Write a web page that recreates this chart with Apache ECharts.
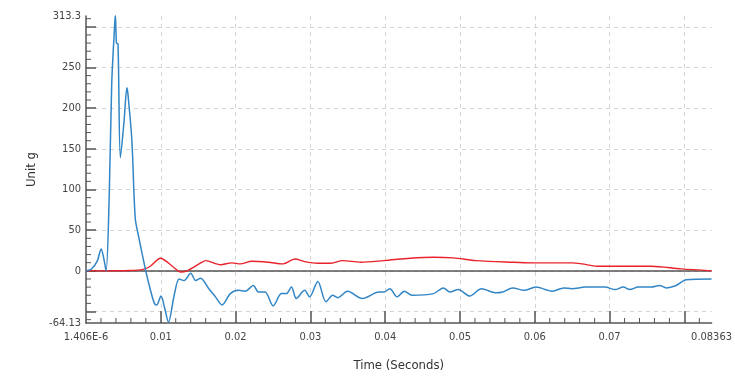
<!DOCTYPE html>
<html><head><meta charset="utf-8">
<script src="https://cdn.jsdelivr.net/npm/echarts@6/dist/echarts.min.js"></script>
<style>html,body{margin:0;padding:0;background:#fff}#c{width:735px;height:377px}</style>
</head><body><div id="c"></div><script>
// Blue trace (acceleration, g)
const accelTime = [0, 0.0007, 0.0015, 0.00203, 0.0024, 0.00269, 0.0031, 0.00344, 0.00385, 0.00393, 0.00401, 0.00408, 0.00428, 0.0046, 0.0051, 0.00547, 0.0056, 0.00613, 0.00658, 0.00702, 0.00799, 0.00857, 0.00914, 0.00944, 0.01003, 0.0105, 0.01103, 0.01179, 0.01245, 0.01311, 0.014, 0.01466, 0.01532, 0.01642, 0.01731, 0.01819, 0.0193, 0.0204, 0.02128, 0.02238, 0.02305, 0.02393, 0.02503, 0.02613, 0.02679, 0.02746, 0.02812, 0.02923, 0.02989, 0.03099, 0.03209, 0.03298, 0.03364, 0.03497, 0.03695, 0.03917, 0.03983, 0.04062, 0.04159, 0.04256, 0.04358, 0.04645, 0.04777, 0.04865, 0.04976, 0.0513, 0.05285, 0.05483, 0.05572, 0.05705, 0.05858, 0.06013, 0.06234, 0.06388, 0.06499, 0.06675, 0.0694, 0.07073, 0.07183, 0.07272, 0.07381, 0.07559, 0.07669, 0.07758, 0.0789, 0.08023, 0.08363];
const accelValues = [0, 2, 12, 27, 14, 0, 90, 230, 305, 314, 295, 280, 279, 139, 185, 225, 218, 161, 65, 43, 0, -22, -40, -42, -31, -45, -63, -30, -10, -12, -3, -12, -9, -22, -32, -42, -28, -24, -25, -18, -26, -26, -43, -28, -28, -20, -34, -24, -32, -13, -38, -30, -33, -25, -34, -26, -26, -22, -32, -25, -30, -28, -21, -26, -23, -31, -22, -27, -26, -21, -24, -20, -25, -21, -22, -20, -20, -23, -20, -23, -20, -20, -18, -21, -18, -11, -10];
// Red trace
const refTime = [0, 0.006, 0.0075, 0.0085, 0.00997, 0.0115, 0.01268, 0.0135, 0.0154, 0.01599, 0.01797, 0.01951, 0.02062, 0.02216, 0.02437, 0.02636, 0.02791, 0.02923, 0.03099, 0.03275, 0.0343, 0.03673, 0.03983, 0.04335, 0.04645, 0.0491, 0.05219, 0.05705, 0.0597, 0.065, 0.06632, 0.0683, 0.07559, 0.07956, 0.08363];
const refValues = [0, 0.5, 1.5, 5, 15.5, 6, -1.5, 0, 10, 12.6, 7.5, 9.8, 8.5, 11.8, 10.6, 8.5, 14.6, 11.4, 9.4, 9.4, 12.6, 10.6, 12.6, 15.5, 16.7, 15.9, 12.6, 10.5, 9.8, 9.8, 8.5, 5.7, 5.7, 2.4, 0];

const xLabelValues = [0.000001406, 0.01, 0.02, 0.03, 0.04, 0.05, 0.06, 0.07, 0.08363];
const xLabelTexts = ['1.406E-6', '0.01', '0.02', '0.03', '0.04', '0.05', '0.06', '0.07', '0.08363'];
const xMajorTicks = [0.01, 0.02, 0.03, 0.04, 0.05, 0.06, 0.07, 0.08];
const xMinorTicks = [0.002, 0.004, 0.006, 0.008, 0.012, 0.014, 0.016, 0.018, 0.022, 0.024, 0.026, 0.028, 0.032, 0.034, 0.036, 0.038, 0.042, 0.044, 0.046, 0.048, 0.052, 0.054, 0.056, 0.058, 0.062, 0.064, 0.066, 0.068, 0.072, 0.074, 0.076, 0.078, 0.082];
const yLabelValues = [-64.13, 0, 50, 100, 150, 200, 250, 313.3];
const yMajorTicks = [-50, 0, 50, 100, 150, 200, 250, 300];
const yMinorTicks = [-60, -40, -30, -20, -10, 10, 20, 30, 40, 60, 70, 80, 90, 110, 120, 130, 140, 160, 170, 180, 190, 210, 220, 230, 240, 260, 270, 280, 290, 310];

const xMin = 0.000001406, xMax = 0.08363, yMin = -64.13, yMax = 313.3;
const FONT = "'Liberation Sans Narrow', 'DejaVu Sans Condensed', sans-serif";
const zip = (a, b) => a.map((t, i) => [t, b[i]]);

function minorTickSeries(data, horizontal) {
  return {
    type: 'custom', silent: true, clip: false, z: 6,
    encode: {x: 0, y: 1},
    data: data,
    renderItem: function (params, api) {
      const p = api.coord([api.value(0), api.value(1)]);
      const shape = horizontal
        ? {x1: p[0], y1: p[1], x2: p[0] + 5, y2: p[1]}
        : {x1: p[0], y1: p[1], x2: p[0], y2: p[1] - 5};
      return {type: 'line', shape: shape, style: {stroke: '#555', lineWidth: 1}};
    }
  };
}

const chart = echarts.init(document.getElementById('c'), null, {renderer: 'canvas'});
chart.setOption({
  animation: false,
  backgroundColor: '#fff',
  grid: {left: 86, right: 19, top: 16, bottom: 53, containLabel: false},
  xAxis: {
    type: 'value', min: xMin, max: xMax, position: 'bottom',
    name: 'Time (Seconds)', nameLocation: 'middle', nameGap: 36,
    nameTextStyle: {fontFamily: FONT, fontSize: 13, color: '#333'},
    axisLine: {show: true, onZero: false, lineStyle: {color: '#555', width: 1.5}},
    axisTick: {show: true, inside: true, length: 12, customValues: xMajorTicks, lineStyle: {color: '#555', width: 1.5}},
    axisLabel: {customValues: xLabelValues, margin: 9, fontFamily: FONT, fontSize: 11, color: '#444',
      showMinLabel: true, showMaxLabel: true,
      formatter: v => { const i = xLabelValues.findIndex(x => Math.abs(x - v) < 1e-9); return i >= 0 ? xLabelTexts[i] : ''; }},
    splitLine: {show: true, lineStyle: {color: '#d4d4d4', type: [4, 4], width: 1}}
  },
  yAxis: {
    type: 'value', min: yMin, max: yMax, position: 'left',
    name: 'Unit g', nameLocation: 'middle', nameGap: 48,
    nameTextStyle: {fontFamily: FONT, fontSize: 13, color: '#333'},
    axisLine: {show: true, onZero: false, lineStyle: {color: '#555', width: 1.5}},
    axisTick: {show: true, inside: true, length: 10, customValues: yMajorTicks, lineStyle: {color: '#555', width: 1.5}},
    axisLabel: {customValues: yLabelValues, margin: 5, fontFamily: FONT, fontSize: 11, color: '#444',
      showMinLabel: true, showMaxLabel: true, formatter: v => String(v)},
    splitLine: {show: true, lineStyle: {color: '#d4d4d4', type: [4, 4], width: 1}}
  },
  series: [{
    type: 'line', name: 'Red', data: zip(refTime, refValues), smooth: 0.3, symbol: 'none',
    lineStyle: {color: '#e8232b', width: 1.4}, z: 3,
    markLine: {silent: true, symbol: 'none', label: {show: false},
      lineStyle: {color: '#555', type: 'solid', width: 1.5}, data: [{yAxis: 0}], z: 2}
  }, {
    type: 'line', name: 'Blue', data: zip(accelTime, accelValues), smooth: 0.3, symbol: 'none',
    lineStyle: {color: '#3286c6', width: 1.5}, z: 4
  },
  minorTickSeries(xMinorTicks.map(v => [v, yMin]), false),
  minorTickSeries(yMinorTicks.map(v => [xMin, v]), true)
  ]
});
</script></body></html>
